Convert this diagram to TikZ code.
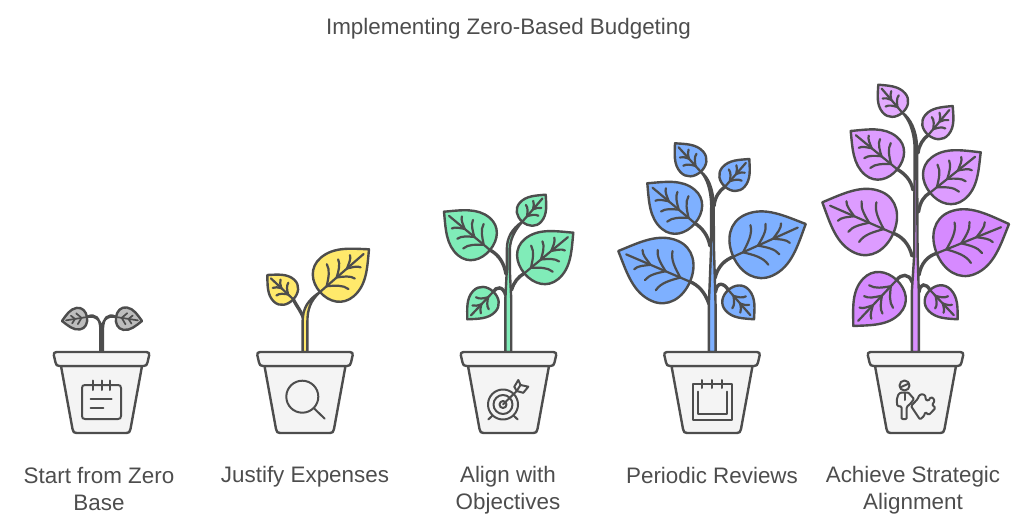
\documentclass[tikz,border=0pt]{standalone}
\usepackage{fontspec}
\setmainfont{Liberation Sans}
\definecolor{ink}{HTML}{4D4D4D}
\definecolor{potfill}{HTML}{F4F4F4}
\definecolor{cgray}{HTML}{BDBDBD}
\definecolor{cyellow}{HTML}{FFE96B}
\definecolor{cgreen}{HTML}{80ECB8}
\definecolor{cblue}{HTML}{7EB0FF}
\definecolor{cpurple}{HTML}{D98FFF}
\definecolor{cpurpleA}{HTML}{E3AAFF}
\definecolor{cpurpleB}{HTML}{DD9CFF}
\definecolor{cpurpleC}{HTML}{D68AFF}
\tikzset{
  ln/.style={draw=ink,line width=2.4pt,line cap=round,line join=round},
  vein/.style={draw=ink,line width=2.2pt,line cap=round,line join=round},
  thin vein/.style={draw=ink,line width=1.7pt,line cap=round,line join=round},
  branch/.style={draw=ink,line width=3.4pt,line cap=round},
  icon/.style={draw=ink,line width=2pt,line cap=round,line join=round},
  txt/.style={text=ink,font=\fontsize{22.4}{27}\selectfont,align=center,inner sep=0pt},
}
% #1 bx #2 by #3 tx #4 ty #5 wa #6 wb #7 colour
\newcommand\leafbody[7]{%
  \pgfmathsetmacro\dx{#3-#1}\pgfmathsetmacro\dy{#4-#2}%
  \pgfmathsetmacro\wa{#5}\pgfmathsetmacro\wb{#6}%
  \begin{scope}[shift={(#1,#2)},x={(\dx pt,-\dy pt)},y={(\dy pt,\dx pt)}]
  \path[ln,fill=#7] (1,0) .. controls (.80,{.48*\wa}) and (.62,\wa) .. (.35,\wa)
     .. controls (.13,\wa) and (0,{.55*\wa}) .. (0,0)
     .. controls (0,{-.55*\wb}) and (.13,-\wb) .. (.35,-\wb)
     .. controls (.62,-\wb) and (.80,{-.48*\wb}) .. (1,0) -- cycle;
}
\newcommand\leaf[7]{\leafbody{#1}{#2}{#3}{#4}{#5}{#6}{#7}%
  \path[vein] (0,0) -- (.89,0);
  \foreach \s/\w in {1/\wa,-1/\wb}{
    \path[vein] (.135,0) .. controls (.24,{\s*.20*\w}) and (.34,{\s*.38*\w}) .. (.36,{\s*.65*\w});
    \path[vein] (.34,0) .. controls (.43,{\s*.15*\w}) and (.52,{\s*.30*\w}) .. (.54,{\s*.50*\w});
    \path[vein] (.55,0) .. controls (.62,{\s*.10*\w}) and (.70,{\s*.18*\w}) .. (.72,{\s*.32*\w});
  }
  \end{scope}}
\newcommand\smleaf[7]{\leafbody{#1}{#2}{#3}{#4}{#5}{#6}{#7}%
  \path[vein] (0,0) -- (.86,0);
  \foreach \s/\w in {1/\wa,-1/\wb}{
    \path[vein] (.20,0) .. controls (.30,{\s*.16*\w}) and (.40,{\s*.32*\w}) .. (.42,{\s*.58*\w});
    \path[vein] (.46,0) .. controls (.54,{\s*.12*\w}) and (.62,{\s*.22*\w}) .. (.64,{\s*.38*\w});
  }
  \end{scope}}
\newcommand\tinyleaf[7]{\leafbody{#1}{#2}{#3}{#4}{#5}{#6}{#7}%
  \path[thin vein] (0,0) -- (.84,0);
  \foreach \s/\w in {1/\wa,-1/\wb}{
    \path[thin vein] (.22,0) -- (.40,{\s*.50*\w});
    \path[thin vein] (.48,0) -- (.62,{\s*.36*\w});
  }
  \end{scope}}
\newcommand\pot[1]{%
  \begin{scope}[shift={(#1,0)}]
  \path[ln,fill=potfill] (-40.5,366) -- (-29,429) .. controls (-28.4,432) and (-27.5,433) .. (-25,433)
     -- (25,433) .. controls (27.5,433) and (28.4,432) .. (29,429) -- (40.5,366) -- cycle;
  \path[ln,fill=potfill] (-45,352) -- (45,352) .. controls (47.5,352) and (48,353.5) .. (47.6,355.5)
     -- (46,362.5) .. controls (45.5,365) and (44.5,366) .. (42,366) -- (-42,366)
     .. controls (-44.5,366) and (-45.5,365) .. (-46,362.5) -- (-47.6,355.5)
     .. controls (-48,353.5) and (-47.5,352) .. (-45,352) -- cycle;
  \end{scope}}
\begin{document}
\begin{tikzpicture}[x=1pt,y=-1pt]
\useasboundingbox (0,0) rectangle (1024,529);
\node[txt] (title) at (508.5,28.5) {Implementing Zero-Based Budgeting};

%% Plant 1
\path[ln,fill=cgray] (100.4,352) -- (100.4,330) .. controls (100.4,318) and (95,312.5) .. (87,317)
   .. controls (96,315) and (101.6,320) .. (101.6,332)
   .. controls (101.6,320) and (107,315) .. (116,317)
   .. controls (108,312.5) and (102.9,318) .. (102.9,330) -- (102.9,352) -- cycle;
\tinyleaf{87}{317}{62}{321}{.44}{.42}{cgray}
\tinyleaf{116}{317}{142}{321}{.42}{.44}{cgray}
\pot{101.5}
\path[icon] (85,385) -- (118,385) .. controls (120,385) and (121,386) .. (121,388) -- (121,416)
   .. controls (121,418) and (120,419) .. (118,419) -- (85,419) .. controls (83,419) and (82,418) .. (82,416)
   -- (82,388) .. controls (82,386) and (83,385) .. (85,385) -- cycle;
\path[icon] (93.3,380.5) -- (93.3,390) (101.7,380.5) -- (101.7,390) (110,380.5) -- (110,390);
\path[icon] (90.7,399.3) -- (111.7,399.3) (90.7,408.3) -- (103.3,408.3);
\node[txt] (l1) at (99,488.5) {Start from Zero\\Base};

%% Plant 2
\path[branch] (304,320) .. controls (302,312) and (297,307) .. (293.3,299.3);
\path[ln,fill=cyellow] (302.6,352) -- (302.6,322) .. controls (302.6,308) and (308,300) .. (320,292)
   .. controls (310,301) and (307.4,310) .. (307.4,322) -- (307.4,352) -- cycle;
\leaf{320}{292}{369}{249.3}{.39}{.39}{cyellow}
\smleaf{293.3}{299.3}{267.3}{275}{.42}{.42}{cyellow}
\pot{305}
\path[icon] (302.3,396.7) circle (16);
\path[icon] (314,408.3) -- (324.7,418.7);
\node[txt] (l2) at (305,476.5) {Justify Expenses};

%% Plant 3
\path[branch] (490,250) .. controls (499,255) and (504,263) .. (506,274);
\path[branch] (524.3,273.3) .. controls (518,277) and (514,282) .. (511.5,290);
\path[branch] (493.3,291.7) .. controls (496,287) and (503,285) .. (506,296);
\path[ln,fill=cgreen] (505.4,352) -- (505.4,298) -- (506.8,270) -- (506.8,250)
   .. controls (506.8,237) and (512,229) .. (522.3,221.7)
   .. controls (514,231) and (510,240) .. (509.8,250) -- (509.8,270) -- (511.2,298) -- (511.2,352) -- cycle;
\leaf{490}{250}{444}{211.7}{.41}{.41}{cgreen}
\leaf{524.3}{273.3}{573.3}{232.7}{.41}{.41}{cgreen}
\smleaf{522.3}{221.7}{545.7}{194.7}{.40}{.40}{cgreen}
\smleaf{493.3}{291.7}{467.3}{319.3}{.40}{.40}{cgreen}
\pot{508.5}
\path[icon] (503,404.5) circle (15) (503,404.5) circle (9.5) (503,404.5) circle (3.5);
\path[icon] (503,404.5) -- (516.7,391);
\path[icon] (488.3,419.5) -- (492.5,415.5) (517.7,419.5) -- (513.5,415.5);
\path[icon] (514.3,386.7) -- (518.3,380) -- (520.5,385) -- (528.3,386.7) -- (523.3,392.8) -- (516.7,391) -- cycle;
\path[icon] (516.7,391) -- (520.5,385);
\node[txt] (l3) at (508,490.5) {Align with\\Objectives};

%% Plant 4
\path[branch] (725,186.7) .. controls (719,191) and (715,197) .. (714,206);
\path[branch] (695,223.3) .. controls (702,228) and (708,235) .. (710,246);
\path[branch] (690,281.7) .. controls (698,285) and (705,292) .. (709,304);
\path[branch] (733.3,256.7) .. controls (725,260) and (718,266) .. (715,278);
\path[branch] (728.3,290) .. controls (724,283) and (717,281) .. (715.5,292);
\path[ln,fill=cblue] (708.8,352) -- (708.8,306) -- (711,250) -- (711.2,205)
   .. controls (710.8,190) and (707,178) .. (700.7,171.7)
   .. controls (708,177) and (713.2,188) .. (713.6,205) -- (714,250) -- (715.6,306) -- (715.6,352) -- cycle;
\leaf{695}{223.3}{647.3}{183.3}{.41}{.41}{cblue}
\leaf{690}{281.7}{618.3}{251}{.42}{.42}{cblue}
\leaf{733.3}{256.7}{805.7}{224}{.42}{.42}{cblue}
\smleaf{700.7}{171.7}{675}{143.3}{.40}{.40}{cblue}
\smleaf{725}{186.7}{749.3}{159}{.40}{.40}{cblue}
\smleaf{728.3}{290}{754}{319.3}{.40}{.40}{cblue}
\pot{712}
\path[icon] (701.7,383.5) -- (692.7,383.5) -- (692.7,420) -- (731.7,420) -- (731.7,383.5) -- (721.7,383.5);
\path[icon] (701.7,383.5) -- (721.7,383.5);
\path[icon] (701.7,380) -- (701.7,388) (711.7,380) -- (711.7,388) (721.7,380) -- (721.7,388);
\path[icon] (698.3,391.7) -- (698.3,414.3) -- (726.7,414.3) -- (726.7,391.7);
\node[txt] (l4) at (712,475.5) {Periodic Reviews};

%% Plant 5
\path[branch] (928.3,135) .. controls (923,139) and (919,145) .. (918,153);
\path[branch] (897.3,169.3) .. controls (905,174) and (911,180) .. (913,190);
\path[branch] (930,192.7) .. controls (924,196) and (920,202) .. (918.5,212);
\path[branch] (893.3,233.3) .. controls (901,236) and (909,243) .. (912,256);
\path[branch] (936.7,253.3) .. controls (928,256) and (921,263) .. (919,275);
\path[branch] (896.7,280) .. controls (901,274) and (909,273) .. (912,282);
\path[branch] (930,290) .. controls (926,283) and (920,283) .. (919,292);
\path[ln,fill=cpurple] (911.8,352) -- (911.8,292) -- (914.2,255) -- (914.6,147)
   .. controls (914,131) and (909,119) .. (902.3,112.7)
   .. controls (910,118) and (916.6,130) .. (917,147) -- (917.6,255) -- (918.8,292) -- (918.8,352) -- cycle;
\leaf{897.3}{169.3}{850.7}{131}{.41}{.41}{cpurpleB}
\leaf{930}{192.7}{980.7}{152.3}{.41}{.41}{cpurpleB}
\leaf{893.3}{233.3}{822.3}{202.3}{.43}{.43}{cpurpleB}
\leaf{936.7}{253.3}{1009}{224}{.43}{.43}{cpurpleC}
\leaf{896.7}{280}{853.3}{326}{.40}{.40}{cpurpleC}
\smleaf{902.3}{112.7}{878.3}{84.7}{.40}{.40}{cpurpleA}
\smleaf{928.3}{135}{952.7}{106}{.40}{.40}{cpurpleA}
\smleaf{930}{290}{957.7}{319.3}{.38}{.38}{cpurpleC}
\pot{915.5}
\path[icon] (904.5,385.5) circle (5);
\path[icon] (900,387.5) -- (909,383.5);
\path[icon] (904.5,393) -- (904.5,400);
\path[icon,rounded corners=1pt] (901,392.5) -- (898.3,394.3) -- (896.7,400) -- (897.3,406) -- (901.5,406.5) -- (901.5,419) -- (906.7,419) -- (906.7,407) -- (910.7,403.3) -- (914,399) -- (908.3,392.5) -- cycle;
\path[icon,rounded corners=1.2pt] (911,406) -- (917.7,399) -- (919.3,395) -- (923.3,394) -- (926,396.7) -- (925,399) -- (928.3,401) -- (930.7,397) -- (934.3,399) -- (933.8,403.3) -- (931.8,404.3) -- (935.5,408) -- (928.8,415) -- (925.3,412) -- (924,416) -- (920,419.5) -- cycle;
\node[txt] (l5) at (913,490.5) {Achieve Strategic\\Alignment};
\end{tikzpicture}
\end{document}
